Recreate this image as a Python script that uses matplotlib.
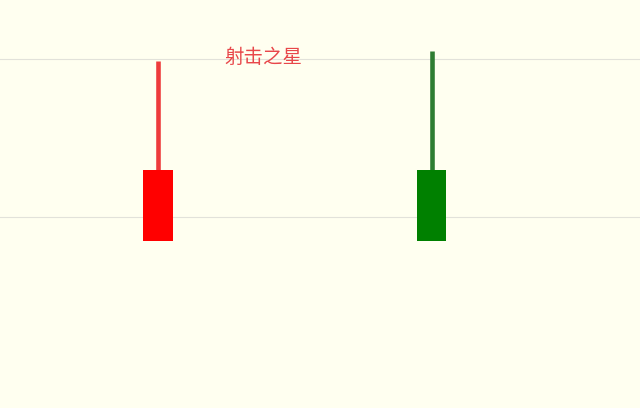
import matplotlib
matplotlib.use("Agg")
import matplotlib.pyplot as plt

# two candles: open / close / high / low
candle_x = [0, 1]
opens = [8.5, 8.5]
closes = [13.0, 13.0]
highs = [19.9, 20.5]
lows = [13.0, 13.0]
body_colors = ["#ff0000", "#008000"]
wick_colors = ["#ee3b3b", "#2e7d32"]
grid_levels = [10, 20]
title_text = "射击之星"

plt.rcParams['font.family'] = ['Noto Sans CJK SC', 'DejaVu Sans']

fig = plt.figure(figsize=(6.4, 4.08), dpi=100, facecolor="#fffff0")
ax = fig.add_axes([0, 0, 1, 1])
ax.set_facecolor("#fffff0")

for lvl in grid_levels:
    ax.axhline(lvl, color="#e2e2da", linewidth=0.8, zorder=0)

body_w = 0.108
for x, o, c, h, l, bc, wc in zip(candle_x, opens, closes, highs, lows, body_colors, wick_colors):
    ax.plot([x, x], [max(o, c), h], color=wc, linewidth=3.3, solid_capstyle="butt", zorder=2)
    ax.bar(x, abs(c - o), bottom=min(o, c), width=body_w, color=bc, zorder=3)

ax.text(0.384, 20.1, title_text, color="#e8474a", fontsize=14, ha="center", va="center")

ax.set_xlim(-0.578, 1.762)
ax.set_ylim(-2.09, 23.73)
ax.axis("off")

fig.savefig("out.png", dpi=100, facecolor=fig.get_facecolor())
